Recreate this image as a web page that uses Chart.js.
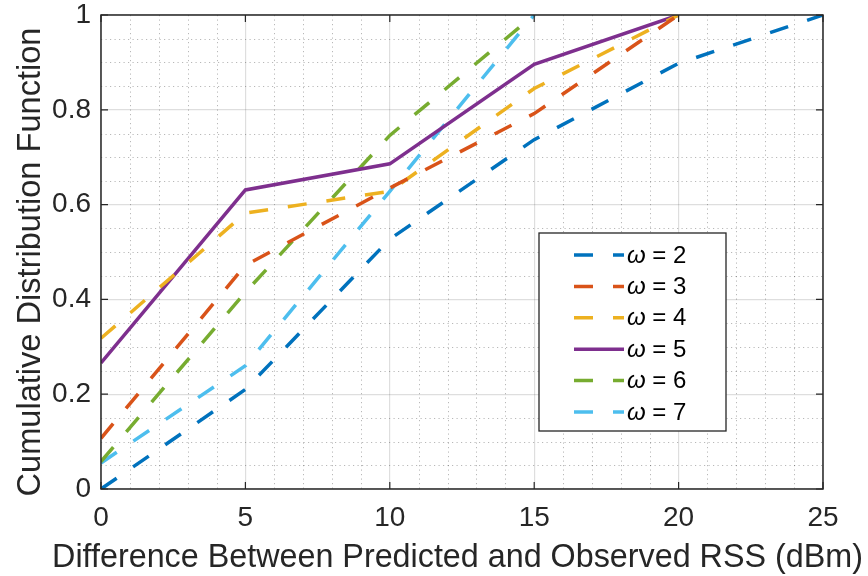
<!DOCTYPE html>
<html>
<head>
<meta charset="utf-8">
<script src="https://cdn.jsdelivr.net/npm/chart.js@4.4.1/dist/chart.umd.min.js"></script>
<style>
  html, body { margin: 0; padding: 0; background: #fff; }
  #wrap { width: 868px; height: 576px; }
</style>
</head>
<body>
<div id="wrap"><canvas id="cdfChart" width="868" height="576"></canvas></div>
<script>
// x positions shared by all curves (dBm)
const diffDbm = [0, 5, 10, 15, 20, 25];

// CDF values, one array per omega
const omega2 = [0, 0.21, 0.527, 0.737, 0.898, 1];
const omega3 = [0.107, 0.472, 0.635, 0.792, 1];
const omega4 = [0.318, 0.582, 0.628, 0.845, 1];
const omega5 = [0.266, 0.631, 0.686, 0.896, 1];
const omega6 = [0.058, 0.415, 0.746, 1];
const omega7 = [0.055, 0.26, 0.628, 1];

const omegaNames = ["2", "3", "4", "5", "6", "7"];
const xTicks = [0, 5, 10, 15, 20, 25];
const yTicks = [0, 0.2, 0.4, 0.6, 0.8, 1];
const xTitle = 'Difference Between Predicted and Observed RSS (dBm)';
const yTitle = 'Cumulative Distribution Function';

const colors = ['#0072BD', '#D95319', '#EDB120', '#7E2F8E', '#77AC30', '#4DBEEE'];
const solid = [false, false, false, true, false, false];
const DASH = [19, 20];
const AXIS = '#262626';
const FONT = "'Liberation Sans', Arial, Helvetica, sans-serif";

function toPoints(ys) {
  return ys.map((y, i) => ({ x: diffDbm[i], y: y }));
}

const seriesValues = [omega2, omega3, omega4, omega5, omega6, omega7];
const datasets = seriesValues.map((vals, i) => ({
  label: omegaNames[i],
  data: toPoints(vals),
  borderColor: colors[i],
  backgroundColor: colors[i],
  borderWidth: 3.5,
  borderDash: solid[i] ? [] : DASH,
  borderCapStyle: 'butt',
  pointRadius: 0,
  tension: 0,
  fill: false
}));

// minor grid, box, inward ticks and axis titles like MATLAB axes
const matlabAxes = {
  id: 'matlabAxes',
  beforeDatasetsDraw(chart) {
    const { ctx, chartArea: a, scales: { x, y } } = chart;
    ctx.save();
    ctx.strokeStyle = 'rgba(0,0,0,0.28)';
    ctx.lineWidth = 1;
    ctx.setLineDash([1.2, 3.3]);
    for (let v = 1; v < 25; v++) {
      if (v % 5 === 0) continue;
      const px = Math.round(x.getPixelForValue(v)) + 0.5;
      ctx.beginPath(); ctx.moveTo(px, a.top); ctx.lineTo(px, a.bottom); ctx.stroke();
    }
    for (let k = 1; k < 20; k++) {
      if (k % 4 === 0) continue;
      const py = Math.round(y.getPixelForValue(k * 0.05)) + 0.5;
      ctx.beginPath(); ctx.moveTo(a.left, py); ctx.lineTo(a.right, py); ctx.stroke();
    }
    ctx.restore();
  },
  afterDatasetsDraw(chart) {
    const { ctx, chartArea: a, scales: { x, y } } = chart;
    ctx.save();
    ctx.strokeStyle = AXIS;
    ctx.lineWidth = 1.5;
    ctx.setLineDash([]);
    ctx.strokeRect(a.left, a.top, a.right - a.left, a.bottom - a.top);
    const tl = 7;
    ctx.lineWidth = 1.2;
    xTicks.forEach(v => {
      const px = x.getPixelForValue(v);
      ctx.beginPath();
      ctx.moveTo(px, a.bottom); ctx.lineTo(px, a.bottom - tl);
      ctx.moveTo(px, a.top); ctx.lineTo(px, a.top + tl);
      ctx.stroke();
    });
    yTicks.forEach(v => {
      const py = y.getPixelForValue(v);
      ctx.beginPath();
      ctx.moveTo(a.left, py); ctx.lineTo(a.left + tl, py);
      ctx.moveTo(a.right, py); ctx.lineTo(a.right - tl, py);
      ctx.stroke();
    });

    // titles drawn by hand so they are not squeezed to the axis length
    ctx.fillStyle = AXIS;
    ctx.font = '32.3px ' + FONT;
    ctx.textAlign = 'center';
    ctx.textBaseline = 'alphabetic';
    ctx.fillText(xTitle, 457.5, 567);
    ctx.translate(39.5, 262);
    ctx.rotate(-Math.PI / 2);
    ctx.font = '32.6px ' + FONT;
    ctx.fillText(yTitle, 0, 0);
    ctx.restore();
  }
};

// legend box inside the plot
const boxLegend = {
  id: 'boxLegend',
  afterDraw(chart, args, opts) {
    const { ctx } = chart;
    ctx.save();
    ctx.fillStyle = '#fff';
    ctx.fillRect(opts.left, opts.top, opts.width, opts.height);
    ctx.strokeStyle = AXIS;
    ctx.lineWidth = 1.3;
    ctx.strokeRect(opts.left, opts.top, opts.width, opts.height);
    chart.data.datasets.forEach((ds, i) => {
      const cy = opts.firstRow + i * opts.rowGap;
      ctx.strokeStyle = ds.borderColor;
      ctx.lineWidth = ds.borderWidth;
      ctx.lineCap = 'butt';
      ctx.setLineDash(ds.borderDash);
      ctx.beginPath();
      ctx.moveTo(opts.lineX, cy);
      ctx.lineTo(opts.lineX + opts.lineLen, cy);
      ctx.stroke();
      ctx.setLineDash([]);
      ctx.fillStyle = '#000';
      ctx.textBaseline = 'middle';
      ctx.textAlign = 'left';
      ctx.font = 'italic 24px ' + FONT;
      const tx = opts.textX;
      ctx.fillText('\u03c9', tx, cy + 1);
      const w = ctx.measureText('\u03c9').width;
      ctx.font = '24px ' + FONT;
      ctx.fillText(' = ' + ds.label, tx + w, cy + 1);
    });
    ctx.restore();
  }
};

const ctx = document.getElementById('cdfChart').getContext('2d');
new Chart(ctx, {
  type: 'line',
  data: { datasets: datasets },
  plugins: [matlabAxes, boxLegend],
  options: {
    responsive: false,
    animation: false,
    layout: { padding: { left: 0, right: 45, top: 15, bottom: 0 } },
    plugins: {
      legend: { display: false },
      tooltip: { enabled: false },
      boxLegend: {
        left: 539, top: 233, width: 187, height: 198,
        firstRow: 255, rowGap: 31.4,
        lineX: 574, lineLen: 50, textX: 627
      }
    },
    scales: {
      x: {
        type: 'linear',
        min: 0, max: 25,
        afterFit(s) { s.height = 87; s.paddingLeft = 0; s.paddingRight = 0; },
        afterBuildTicks(s) { s.ticks = xTicks.map(v => ({ value: v })); },
        ticks: {
          color: AXIS, padding: 12,
          font: { family: FONT, size: 28 },
          callback: v => String(v)
        },
        grid: { color: 'rgba(0,0,0,0.13)', lineWidth: 1.2, drawTicks: false },
        border: { display: false },
        title: { display: false }
      },
      y: {
        type: 'linear',
        min: 0, max: 1,
        afterFit(s) { s.width = 101; s.paddingTop = 0; s.paddingBottom = 0; },
        afterBuildTicks(s) { s.ticks = yTicks.map(v => ({ value: v })); },
        ticks: {
          color: AXIS, padding: 10,
          font: { family: FONT, size: 28 },
          callback: v => String(Math.round(v * 10) / 10)
        },
        grid: { color: 'rgba(0,0,0,0.13)', lineWidth: 1.2, drawTicks: false },
        border: { display: false },
        title: { display: false }
      }
    }
  }
});
</script>
</body>
</html>
